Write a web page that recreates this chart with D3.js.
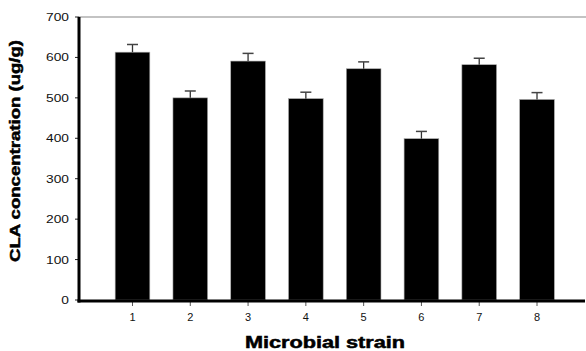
<!DOCTYPE html>
<meta charset="utf-8">
<script src="https://d3js.org/d3.v7.min.js"></script>
<style>
  body { margin: 0; background: #fff; }
  text { font-family: Arial, "Liberation Sans", sans-serif; }
</style>
<div id="chart"></div>
<script>

// data
var strains = ["1", "2", "3", "4", "5", "6", "7", "8"];
var cla = [613, 500, 591, 498, 572, 399, 582, 496];
var errs = [19, 17, 19, 16, 17, 18, 16, 17];
var yTicks = [0, 100, 200, 300, 400, 500, 600, 700];

var width = 586, height = 351;

var svg = d3.select("#chart")
  .append("svg")
    .attr("width", width)
    .attr("height", height);

// y scale: 0 at y=300, 700 at y=17
var y = d3.scaleLinear()
  .domain([0, 700])
  .range([300, 17]);

// band scale, centres from ~132 to ~537
var x = d3.scaleBand()
  .domain(strains)
  .range([103.6, 565.9])
  .paddingInner(0.4)
  .paddingOuter(0.2);

// top border line (grey)
svg.append("line")
  .attr("x1", 79).attr("x2", width)
  .attr("y1", y(700)).attr("y2", y(700))
  .style("stroke", "#888")
  .style("stroke-width", 1.2);

// bars
svg.selectAll("rect.bar")
  .data(cla)
  .enter()
  .append("rect")
    .attr("class", "bar")
    .attr("x", function(d, i){ return x(strains[i]) })
    .attr("y", function(d){ return y(d) })
    .attr("width", x.bandwidth())
    .attr("height", function(d){ return y(0) - y(d) })
    .style("fill", "black")
    .style("stroke", "#aaa")
    .style("stroke-width", 0.6);

// error bars (upper only)
var eb = svg.selectAll("g.err")
  .data(cla)
  .enter()
  .append("g")
    .attr("class", "err");

eb.append("line")
  .attr("x1", function(d, i){ return x(strains[i]) + x.bandwidth()/2 })
  .attr("x2", function(d, i){ return x(strains[i]) + x.bandwidth()/2 })
  .attr("y1", function(d){ return y(d) })
  .attr("y2", function(d, i){ return y(d + errs[i]) })
  .style("stroke", "#333")
  .style("stroke-width", 1.3);

eb.append("line")
  .attr("x1", function(d, i){ return x(strains[i]) + x.bandwidth()/2 - 5.5 })
  .attr("x2", function(d, i){ return x(strains[i]) + x.bandwidth()/2 + 5.5 })
  .attr("y1", function(d, i){ return y(d + errs[i]) })
  .attr("y2", function(d, i){ return y(d + errs[i]) })
  .style("stroke", "#444")
  .style("stroke-width", 1.5);

// y axis ticks and labels
svg.selectAll("line.ytick")
  .data(yTicks)
  .enter()
  .append("line")
    .attr("x1", 75).attr("x2", 79)
    .attr("y1", function(d){ return y(d) })
    .attr("y2", function(d){ return y(d) })
    .style("stroke", "#222")
    .style("stroke-width", 1);

svg.selectAll("text.ylab")
  .data(yTicks)
  .enter()
  .append("text")
    .attr("transform", function(d){ return "translate(69," + (y(d) + 4) + ") scale(1.25,1)" })
    .attr("text-anchor", "end")
    .attr("font-size", "11px")
    .attr("fill", "#111")
    .text(function(d){ return d });

// x axis ticks and labels
svg.selectAll("line.xtick")
  .data(strains)
  .enter()
  .append("line")
    .attr("x1", function(d){ return x(d) + x.bandwidth()/2 })
    .attr("x2", function(d){ return x(d) + x.bandwidth()/2 })
    .attr("y1", 302).attr("y2", 306)
    .style("stroke", "#555")
    .style("stroke-width", 1);

svg.selectAll("text.xlab")
  .data(strains)
  .enter()
  .append("text")
    .attr("x", function(d){ return x(d) + x.bandwidth()/2 })
    .attr("y", 321)
    .attr("text-anchor", "middle")
    .attr("font-size", "11px")
    .attr("fill", "#111")
    .text(function(d){ return d });

// thick axis lines
svg.append("line")
  .attr("x1", 79).attr("x2", 79)
  .attr("y1", y(700)).attr("y2", 302.5)
  .style("stroke", "black")
  .style("stroke-width", 3);

svg.append("line")
  .attr("x1", 77.5).attr("x2", 585)
  .attr("y1", 301).attr("y2", 301)
  .style("stroke", "black")
  .style("stroke-width", 3);

// axis titles (heavy bold, like the original)
svg.append("text")
  .attr("transform", "translate(20,151) rotate(-90)")
  .attr("text-anchor", "middle")
  .attr("font-size", "14px")
  .attr("font-weight", "bold")
  .attr("textLength", 222)
  .attr("lengthAdjust", "spacingAndGlyphs")
  .attr("fill", "black")
  .style("stroke", "black")
  .style("stroke-width", 0.5)
  .text("CLA concentration (ug/g)");

svg.append("text")
  .attr("x", 245)
  .attr("y", 348)
  .attr("font-size", "16px")
  .attr("font-weight", "bold")
  .attr("textLength", 160)
  .attr("lengthAdjust", "spacingAndGlyphs")
  .attr("fill", "black")
  .style("stroke", "black")
  .style("stroke-width", 0.5)
  .text("Microbial strain");

</script>
